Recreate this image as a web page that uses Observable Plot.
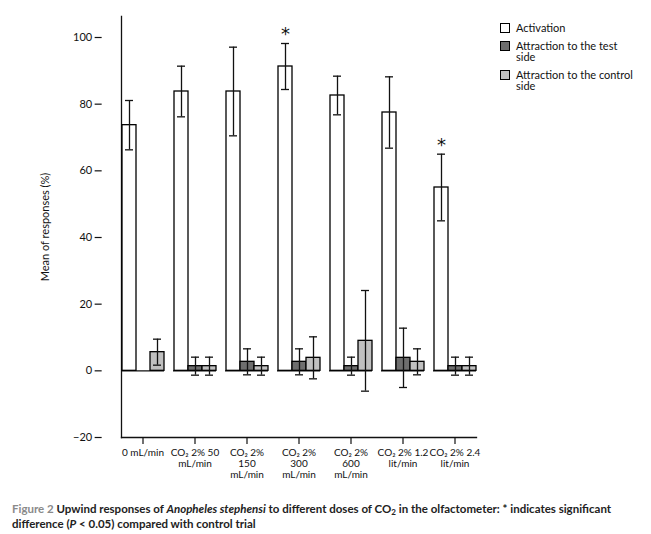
<!DOCTYPE html>
<html><head><meta charset="utf-8">
<script src="https://cdn.jsdelivr.net/npm/d3@7"></script>
<script src="https://cdn.jsdelivr.net/npm/@observablehq/plot@0.6"></script>
<style>
body{margin:0;background:#fff;}
#wrap{position:relative;width:651px;height:534px;font-family:Lato,"Noto Sans",sans-serif;color:#111;background:#fff;}
#chart svg{display:block;}
#legend{position:absolute;left:500px;top:22px;font-size:11px;line-height:11.5px;}
.item{position:relative;padding-left:16px;margin-bottom:6px;width:120px;}
.sw{position:absolute;left:0;top:1px;width:8px;height:8px;border:1px solid #000;}
#caption{position:absolute;left:12px;top:502px;font-size:11.5px;line-height:13px;font-weight:bold;white-space:nowrap;color:#222;}
#caption sub{font-size:0.7em;vertical-align:baseline;position:relative;top:0.3em;}
</style></head><body>
<div id="wrap"><div id="chart"></div><div id="legend"></div>
<div id="caption"><span style="color:#8a8a8a">Figure 2</span> Upwind responses of <i>Anopheles stephensi</i> to different doses of CO<sub>2</sub> in the olfactometer: * indicates significant<br>difference (<i>P</i> &lt; 0.05) compared with control trial</div>
</div>
<script>
const categories = ["0 mL/min", "CO₂ 2% 50\nmL/min", "CO₂ 2%\n150\nmL/min", "CO₂ 2%\n300\nmL/min", "CO₂ 2%\n600\nmL/min", "CO₂ 2% 1.2\nlit/min", "CO₂ 2% 2.4\nlit/min"];
const series = ["Activation", "Attraction to the test side", "Attraction to the control side"];
const activationMean = [73.7, 83.8, 83.8, 91.3, 82.6, 77.5, 55.0];
const activationSD = [7.4, 7.6, 13.3, 6.9, 5.8, 10.7, 10.0];
const testMean = [0, 1.4, 2.7, 2.7, 1.4, 3.9, 1.4];
const testSD = [0, 2.7, 3.9, 3.9, 2.7, 8.9, 2.7];
const controlMean = [5.6, 1.4, 1.4, 3.9, 9.0, 2.7, 1.4];
const controlSD = [3.9, 2.7, 2.7, 6.3, 15.1, 3.9, 2.7];
const significant = [false, false, false, true, false, false, true];
const yTicks = [-20, 0, 20, 40, 60, 80, 100];
const colors = ["#ffffff", "#6e6e6e", "#c0c0c0"];

const means = [activationMean, testMean, controlMean];
const sds = [activationSD, testSD, controlSD];
const rows = [];
categories.forEach((c, i) => {
  series.forEach((s, j) => rows.push({cat: c, series: s, mean: means[j][i], sd: sds[j][i], sig: j === 0 && significant[i]}));
});
const errRows = rows.filter(d => d.sd > 0);
const starRows = rows.filter(d => d.sig);

const W = 651, ML = 97, MR = 169;
const fxOptions = {domain: categories, paddingInner: 0.168, paddingOuter: 0.223, align: 0.82, label: null};
// the y axis sits at the frame's left edge, left of the first facet band
const fxScale = Plot.scale({fx: {...fxOptions, range: [ML, W - MR]}});
const axisShift = ML - fxScale.apply(categories[0]);

const chart = Plot.plot({
  width: W, height: 495,
  marginLeft: ML, marginRight: MR, marginTop: 16, marginBottom: 58,
  style: {fontFamily: "Lato, 'Noto Sans', sans-serif", fontSize: "10px", color: "#111", background: "#fff"},
  fx: fxOptions,
  x: {domain: series, padding: 0, axis: null},
  y: {domain: [-20, 106.3], label: null},
  color: {domain: series, range: colors},
  marks: [
    Plot.frame({anchor: "left", facet: "super", strokeWidth: 1.3}),
    Plot.frame({anchor: "bottom", facet: "super", strokeWidth: 1.3}),
    Plot.axisY({ticks: yTicks, tickSize: 7, tickPadding: 3, fontSize: 11, strokeWidth: 1.2, dx: axisShift,
      label: "Mean of responses (%)", labelArrow: "none", labelAnchor: "center", labelOffset: 80}),
    Plot.axisFx({anchor: "bottom", tickSize: 7, tickPadding: 4, fontSize: 10, label: null, lineHeight: 1.1, strokeWidth: 1.2}),
    Plot.ruleY([0], {strokeWidth: 1.3}),
    Plot.barY(rows, {fx: "cat", x: "series", y: "mean", fill: "series", stroke: "black", strokeWidth: 1.3}),
    Plot.ruleX(errRows, {fx: "cat", x: "series", y1: d => d.mean - d.sd, y2: d => d.mean + d.sd, strokeWidth: 1.3}),
    Plot.tickY(errRows, {fx: "cat", x: "series", y: d => d.mean + d.sd, insetLeft: 3, insetRight: 3, strokeWidth: 1.3}),
    Plot.tickY(errRows, {fx: "cat", x: "series", y: d => d.mean - d.sd, insetLeft: 3, insetRight: 3, strokeWidth: 1.3}),
    Plot.text(starRows, {fx: "cat", x: "series", y: d => d.mean + d.sd, text: d => "*", dy: -9, fontSize: 18, fontFamily: "DejaVu Sans"})
  ]
});
document.getElementById("chart").appendChild(chart);

const legend = document.getElementById("legend");
series.forEach((s, j) => {
  const it = document.createElement("div");
  it.className = "item";
  it.innerHTML = `<span class="sw" style="background:${colors[j]}"></span>${s}`;
  legend.appendChild(it);
});
</script>
</body></html>
